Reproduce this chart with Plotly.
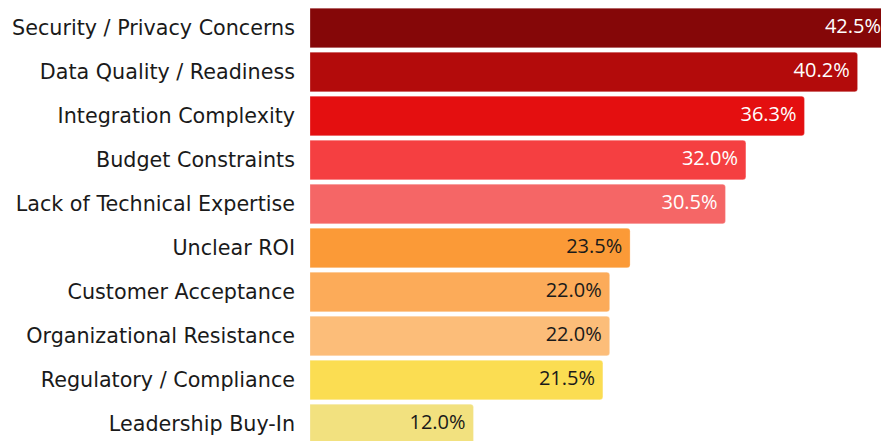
import plotly.graph_objects as go

categories = [
    "Security / Privacy Concerns",
    "Data Quality / Readiness",
    "Integration Complexity",
    "Budget Constraints",
    "Lack of Technical Expertise",
    "Unclear ROI",
    "Customer Acceptance",
    "Organizational Resistance",
    "Regulatory / Compliance",
    "Leadership Buy-In",
]
values = [42.5, 40.2, 36.3, 32.0, 30.5, 23.5, 22.0, 22.0, 21.5, 12.0]
colors = ["#850708", "#B30B0B", "#E40F10", "#F53F41", "#F56666",
          "#FB9A37", "#FCAB59", "#FCBD79", "#FBDD52", "#F2E17F"]
text_colors = ["white"] * 5 + ["#1a1a1a"] * 5
labels = [f"{v:.1f}%" for v in values]

LABEL_FONT = "DejaVu Sans, sans-serif"
VALUE_FONT = "Open Sans, sans-serif"

fig = go.Figure()
fig.add_trace(go.Bar(
    x=values,
    y=categories,
    orientation="h",
    marker=dict(color=colors, cornerradius=3,
                line=dict(width=1, color="rgba(255,255,255,0.25)")),
    hoverinfo="skip",
))
# value labels, right-aligned just inside each bar end
fig.add_trace(go.Scatter(
    x=values,
    y=categories,
    mode="markers+text",
    marker=dict(size=11, color="rgba(0,0,0,0)"),
    text=labels,
    textposition="middle left",
    textfont=dict(family=VALUE_FONT, size=20, color=text_colors),
    cliponaxis=True,
    hoverinfo="skip",
))

fig.update_layout(
    width=881,
    height=441,
    margin=dict(l=310, r=0, t=0, b=0),
    paper_bgcolor="white",
    plot_bgcolor="white",
    bargap=0.1,
    showlegend=False,
    xaxis=dict(range=[0, 41.92], visible=False, showgrid=False, zeroline=False),
    yaxis=dict(
        range=[9.386, -0.636],
        showgrid=False,
        zeroline=False,
        showline=False,
        ticks="",
        ticklabelstandoff=14,
        tickfont=dict(family=LABEL_FONT, size=20.7, color="#1a1a1a"),
    ),
)

fig.write_html("out.html")
